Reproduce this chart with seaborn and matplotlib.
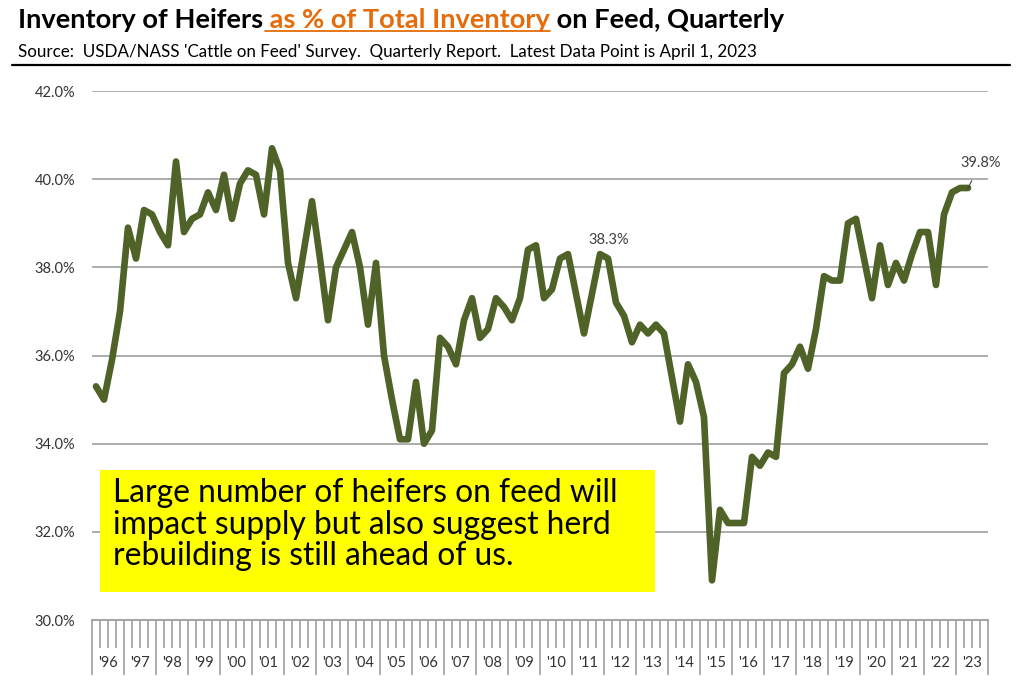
import matplotlib
matplotlib.use("Agg")
import matplotlib.pyplot as plt
import seaborn as sns
import numpy as np
import pandas as pd
from matplotlib.lines import Line2D
from matplotlib.patches import Rectangle

# ---------------- data ----------------
first_year = 1996
year_labels = ["'96", "'97", "'98", "'99", "'00", "'01", "'02", "'03", "'04", "'05",
               "'06", "'07", "'08", "'09", "'10", "'11", "'12", "'13", "'14", "'15",
               "'16", "'17", "'18", "'19", "'20", "'21", "'22", "'23"]
# quarterly heifers as % of total cattle on feed, Jan 1996 .. Apr 2023
heifer_pct = [
    35.3, 35.0, 35.9, 37.0,   # 1996
    38.9, 38.2, 39.3, 39.2,   # 1997
    38.8, 38.5, 40.4, 38.8,   # 1998
    39.1, 39.2, 39.7, 39.3,   # 1999
    40.1, 39.1, 39.9, 40.2,   # 2000
    40.1, 39.2, 40.7, 40.2,   # 2001
    38.1, 37.3, 38.4, 39.5,   # 2002
    38.2, 36.8, 38.0, 38.4,   # 2003
    38.8, 38.0, 36.7, 38.1,   # 2004
    36.0, 35.0, 34.1, 34.1,   # 2005
    35.4, 34.0, 34.3, 36.4,   # 2006
    36.2, 35.8, 36.8, 37.3,   # 2007
    36.4, 36.6, 37.3, 37.1,   # 2008
    36.8, 37.3, 38.4, 38.5,   # 2009
    37.3, 37.5, 38.2, 38.3,   # 2010
    37.4, 36.5, 37.4, 38.3,   # 2011
    38.2, 37.2, 36.9, 36.3,   # 2012
    36.7, 36.5, 36.7, 36.5,   # 2013
    35.5, 34.5, 35.8, 35.4,   # 2014
    34.6, 30.9, 32.5, 32.2,   # 2015
    32.2, 32.2, 33.7, 33.5,   # 2016
    33.8, 33.7, 35.6, 35.8,   # 2017
    36.2, 35.7, 36.6, 37.8,   # 2018
    37.7, 37.7, 39.0, 39.1,   # 2019
    38.2, 37.3, 38.5, 37.6,   # 2020
    38.1, 37.7, 38.3, 38.8,   # 2021
    38.8, 37.6, 39.2, 39.7,   # 2022
    39.8, 39.8,               # 2023
]
labelled_points = [63, len(heifer_pct) - 1]

title_parts = ["Inventory of Heifers", " as % of Total Inventory", " on Feed, Quarterly"]
subtitle = "Source:  USDA/NASS 'Cattle on Feed' Survey.  Quarterly Report.  Latest Data Point is April 1, 2023"
box_lines = ["Large number of heifers on feed will",
             "impact supply but also suggest herd",
             "rebuilding is still ahead of us."]

# ---------------- style ----------------
sns.set_theme(style="white")
plt.rcParams['font.family'] = ['Lato', 'DejaVu Sans']

W, H = 1024, 690
fig = plt.figure(figsize=(W / 100, H / 100), dpi=100)
fig.patch.set_facecolor("white")


def fx(px):
    return px / W


def fy(py):
    return 1 - py / H


ax = fig.add_axes([fx(92), fy(620), fx(988) - fx(92), fy(91) - fy(620)])

n = len(heifer_pct)
xpos = first_year + np.arange(n) / 4 + 0.125
df = pd.DataFrame({"date": xpos, "pct": heifer_pct})
sns.lineplot(data=df, x="date", y="pct", ax=ax, color="#4F6228", lw=4.8,
             solid_joinstyle="round", solid_capstyle="round", zorder=3)

ax.set_xlim(first_year, first_year + len(year_labels))
ax.set_ylim(30, 42)
yt = np.arange(30, 42.01, 2)
ax.set_yticks(yt)
ax.set_yticklabels([f"{v:.1f}%" for v in yt], fontsize=10.5, color="#333333")
ax.tick_params(axis="y", length=0, pad=12)
ax.yaxis.grid(True, color="#A6A6A6", lw=1.3)
ax.xaxis.grid(False)
ax.set_xlabel("")
ax.set_ylabel("")
for s in ["left", "right", "top"]:
    ax.spines[s].set_visible(False)
ax.spines["bottom"].set_color("#A6A6A6")
ax.spines["bottom"].set_linewidth(1.5)

major = np.arange(first_year, first_year + len(year_labels) + 1)
minor = [y + q / 4 for y in major[:-1] for q in (1, 2, 3)]
ax.set_xticks(major)
ax.set_xticklabels([""] * len(major))
ax.set_xticks(minor, minor=True)
ax.tick_params(axis="x", which="major", direction="out", length=55 * 0.72,
               width=1.2, color="#A0A0A0", bottom=True)
ax.tick_params(axis="x", which="minor", direction="out", length=28 * 0.72,
               width=1.2, color="#A0A0A0", bottom=True)

xt = ax.get_xaxis_transform()
for i, lab in enumerate(year_labels):
    ax.text(first_year + i + 0.5, -43 / 529, lab, transform=xt, ha="center", va="center",
            fontsize=10.5, color="#333333", clip_on=False)

# data labels
i0 = labelled_points[0]
ax.annotate(f"{heifer_pct[i0]:.1f}%", xy=(xpos[i0], heifer_pct[i0]), xytext=(9, 14),
            textcoords="offset pixels", ha="center", va="center", fontsize=10.5, color="#404040")
i1 = labelled_points[1]
ax.annotate(f"{heifer_pct[i1]:.1f}%", xy=(xpos[i1], heifer_pct[i1]), xytext=(13, 25),
            textcoords="offset pixels", ha="center", va="center", fontsize=10.5, color="#404040",
            arrowprops=dict(arrowstyle="-", color="#404040", lw=0.8, shrinkA=6, shrinkB=0))

# yellow box
fig.add_artist(Rectangle((fx(100), fy(592)), fx(655) - fx(100), fy(470) - fy(592),
                         transform=fig.transFigure, facecolor="#FFFF00", edgecolor="none", zorder=5))
renderer = fig.canvas.get_renderer()

box_texts = []
for k, line in enumerate(box_lines):
    t = fig.text(fx(113), fy(493 + k * 31.5), line, ha="left", va="center", fontsize=20,
                 color="black", zorder=6)
    box_texts.append(t)
w0 = box_texts[0].get_window_extent(renderer).width
scale = 505 / w0
for t in box_texts:
    t.set_fontsize(20 * scale)

# title (mixed colours)
tsize = 18
tts = []
cols = ["black", "#E46C0A", "black"]
for part, c in zip(title_parts, cols):
    tts.append(fig.text(0, fy(28), part, ha="left", va="baseline", fontsize=tsize, color=c,
                        fontweight="bold"))
tot = sum(t.get_window_extent(renderer).width for t in tts)
tsize = tsize * 770 / tot
xcur = 18
for t in tts:
    t.set_fontsize(tsize)
    t.set_x(fx(xcur))
    xcur += t.get_window_extent(renderer).width
bb = tts[1].get_window_extent(renderer)
fig.add_artist(Line2D([fx(bb.x0 + 2), fx(bb.x1)], [fy(31), fy(31)], transform=fig.transFigure,
                      color="#E46C0A", lw=1.3))

st = fig.text(fx(18), fy(57), subtitle, ha="left", va="baseline", fontsize=10, color="black")
sw = st.get_window_extent(renderer).width
st.set_fontsize(10 * 737 / sw)
fig.add_artist(Line2D([fx(12), fx(1010)], [fy(65), fy(65)], transform=fig.transFigure,
                      color="black", lw=1.6))

fig.savefig("out.png", dpi=100, facecolor="white")
